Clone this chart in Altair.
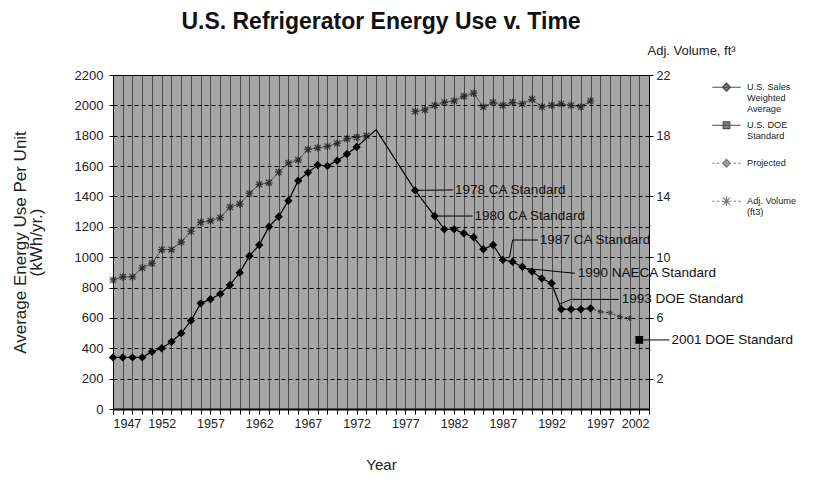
import altair as alt
import pandas as pd

# ---------------- data ----------------
sales_years = list(range(1947, 1973)) + [1974, 1978] + list(range(1980, 1997))
sales_kwh = [340, 340, 340, 340, 377, 400, 443, 499, 582, 696, 723, 758, 817, 898, 1008,
             1080, 1201, 1267, 1372, 1504, 1557, 1607, 1601, 1636, 1680, 1726,
             1840, 1440,
             1271, 1184, 1184, 1157, 1131, 1052, 1080, 982, 970, 937, 905, 860, 828,
             657, 657, 657, 663]

proj_years = [1996, 1997, 1998, 1999, 2000]
proj_kwh = [663, 641, 634, 608, 597]

doe_years = [2001]
doe_kwh = [455]

vol_years = list(range(1947, 1974)) + list(range(1978, 1997))
vol_ft3 = [8.5, 8.7, 8.7, 9.3, 9.6, 10.5, 10.5, 11.0, 11.7, 12.3, 12.4, 12.6, 13.3, 13.5,
           14.2, 14.8, 14.9, 15.6, 16.2, 16.4, 17.1, 17.2, 17.3, 17.5, 17.8, 17.9, 18.0,
           19.6, 19.7, 20.0, 20.2, 20.3, 20.6, 20.8, 19.9, 20.2, 20.0, 20.2, 20.1, 20.4,
           19.9, 20.0, 20.1, 20.0, 19.9, 20.3]

ann_labels = ["1978 CA Standard", "1980 CA Standard", "1987 CA Standard",
              "1990 NAECA Standard", "1993 DOE Standard", "2001 DOE Standard"]
ann_year = [1982.1, 1984.1, 1990.8, 1994.7, 1999.2, 2004.3]
ann_kwh = [1443, 1271, 1113, 894, 722, 455]

leader_id = [0, 0, 1, 1, 2, 2, 2, 3, 3, 4, 4, 4, 5, 5]
leader_year = [1978.2, 1981.9, 1980.2, 1983.9, 1987.7, 1988.0, 1990.6,
               1989.5, 1994.4, 1992.8, 1994.0, 1998.9, 2001.4, 2004.1]
leader_kwh = [1440, 1443, 1271, 1271, 1001, 1113, 1113,
              925, 894, 690, 722, 722, 455, 455]

legend_names = ["U.S. Sales\nWeighted\nAverage", "U.S. DOE\nStandard\n", "Projected\n\n",
                "Adj. Volume\n(ft3)\n"]

x_ticks = list(range(1947, 2003))
y_ticks = list(range(0, 2201, 200))
y2_ticks = [2, 6, 10, 14, 18, 22]

# ---------------- frames ----------------
sales = pd.DataFrame({"year": sales_years, "value": sales_kwh})
proj = pd.DataFrame({"year": proj_years, "value": proj_kwh})
doe = pd.DataFrame({"year": doe_years, "value": doe_kwh})
vol = pd.DataFrame({"year": vol_years, "vol": vol_ft3})
ann = pd.DataFrame({"year": ann_year, "value": ann_kwh, "label": ann_labels})
lead = pd.DataFrame({"id": leader_id, "year": leader_year, "value": leader_kwh,
                     "ord": list(range(len(leader_id)))})
leg = pd.DataFrame({"series": legend_names, "year": [1900] * 4, "value": [0] * 4})

FONT = "Liberation Sans"

xenc = alt.X("year:Q",
             scale=alt.Scale(domain=[1947, 2002], nice=False, zero=False),
             axis=alt.Axis(values=x_ticks, format="d",
                           labelExpr="(datum.value - 1947) % 5 == 0 ? datum.label : ''",
                           grid=True, gridColor="#2a2a2a", gridWidth=1, gridOpacity=0.75,
                           domainColor="black", domainWidth=2, tickColor="black",
                           tickSize=5, labelFontSize=12.5, labelColor="#222",
                           labelPadding=3, title="Year", titleFontSize=15,
                           titleFontWeight="normal", titleColor="#222",
                           titlePadding=28))

yenc = alt.Y("value:Q",
             scale=alt.Scale(domain=[0, 2200], nice=False),
             axis=alt.Axis(values=y_ticks, grid=True, gridColor="black",
                           gridDash=[4, 3], gridWidth=1, domainColor="black",
                           tickColor="black", tickSize=4, labelFontSize=13,
                           labelColor="#222", labelPadding=6, format="d",
                           title=["Average Energy Use Per Unit", "(kWh/yr.)"],
                           titleFontSize=17, titleLineHeight=16,
                           titleFontWeight="normal",
                           titleColor="#222", titlePadding=29))

diamond = "M0,-1L1,0L0,1L-1,0Z"
star = "M0,-1L0,1M-0.8,-0.8L0.8,0.8M-0.8,0.8L0.8,-0.8M-1,0L1,0"

sales_line = alt.Chart(sales).mark_line(color="black", strokeWidth=1.2).encode(
    x=xenc, y=yenc)
sales_pts = alt.Chart(sales).transform_filter("datum.year != 1974").mark_point(
    shape=diamond, filled=True, color="black", size=70, opacity=1).encode(x=xenc, y=yenc)
proj_line = alt.Chart(proj).mark_line(color="#333", strokeWidth=1.2,
                                      strokeDash=[2, 2]).encode(x=xenc, y=yenc)
proj_pts = alt.Chart(proj).transform_filter("datum.year > 1996").mark_point(
    shape=star, filled=False, color="#222", size=30, strokeWidth=1).encode(x=xenc, y=yenc)
doe_pts = alt.Chart(doe).mark_point(shape="square", filled=True, color="black",
                                    size=60, opacity=1).encode(x=xenc, y=yenc)
leaders = alt.Chart(lead).mark_line(color="black", strokeWidth=1).encode(
    x=xenc, y=yenc, detail="id:N", order="ord:Q")
ann_text = alt.Chart(ann).mark_text(align="left", baseline="middle", fontSize=13.5,
                                    font=FONT, color="#111").encode(
    x=xenc, y=yenc, text="label:N")

leg_layer = alt.Chart(leg).mark_point(filled=False, clip=True, size=90,
                                      strokeWidth=1.2).encode(
    x=xenc, y=yenc,
    shape=alt.Shape("series:N", scale=alt.Scale(domain=legend_names, range=[
        "M-3,1L3,1M0,0.15L0.85,1L0,1.85L-0.85,1Z",
        "M-3,1L3,1M-0.7,0.3L0.7,0.3L0.7,1.7L-0.7,1.7Z",
        "M-3,1L-2.5,1M-2,1L-1.5,1M1.5,1L2,1M2.5,1L3,1M0,0.2L0.8,1L0,1.8L-0.8,1Z",
        "M-3,1L-2.5,1M-2,1L-1.5,1M1.5,1L2,1M2.5,1L3,1M-1,1L1,1M0,0L0,2M-0.75,0.25L0.75,1.75M-0.75,1.75L0.75,0.25"]),
        legend=alt.Legend(title=None, orient="none", legendX=608, legendY=2,
                          labelExpr="split(datum.label, '\\n')",
                          labelFontSize=9.2, labelFont=FONT, labelColor="#222",
                          labelOffset=15, symbolSize=90, symbolStrokeWidth=1.2,
                          rowPadding=0, padding=0, labelBaseline="top")),
    stroke=alt.Stroke("series:N", scale=alt.Scale(domain=legend_names,
                      range=["black", "black", "#444", "#444"]), legend=None),
    fill=alt.Fill("series:N", scale=alt.Scale(domain=legend_names,
                  range=["black", "black", "#444", "#444"]), legend=None),
)

left = alt.layer(sales_line, proj_line, leaders, sales_pts, proj_pts, doe_pts,
                 ann_text, leg_layer)

y2enc = alt.Y("vol:Q", scale=alt.Scale(domain=[0, 22], nice=False),
              axis=alt.Axis(orient="right", values=y2_ticks, grid=False,
                            domainColor="black", tickColor="black", tickSize=4,
                            labelFontSize=12.5, labelColor="#222", labelPadding=3,
                            title="Adj. Volume, ft\u00b3", titleAngle=0,
                            titleAlign="left", titleBaseline="bottom",
                            titleX=-2, titleY=-18, titleFontSize=13,
                            titleFontWeight="normal", titleColor="#222"))

vol_line = alt.Chart(vol).transform_calculate(
    seg="datum.year < 1975 ? 'a' : 'b'").mark_line(
    color="#555", strokeWidth=1).encode(x=xenc, y=y2enc, detail="seg:N")
vol_pts = alt.Chart(vol).mark_point(shape=star, filled=False, color="#111",
                                    size=55, strokeWidth=1.3).encode(x=xenc, y=y2enc)
right = alt.layer(vol_line, vol_pts)

chart = alt.layer(left, right).resolve_scale(y="independent").properties(
    width=536, height=334,
    autosize=alt.AutoSizeParams(type="none"),
    padding={"left": 105, "top": 67, "right": 160, "bottom": 63},
    title=alt.Title("U.S. Refrigerator Energy Use v. Time", fontSize=23,
                    font=FONT, fontWeight="bold", color="#111",
                    anchor="middle", offset=10),
).configure(font=FONT).configure_view(
    fill="#a6a6a6", stroke="black", strokeWidth=1)

chart.save("out.html", embed_options={"renderer": "svg", "actions": False})
